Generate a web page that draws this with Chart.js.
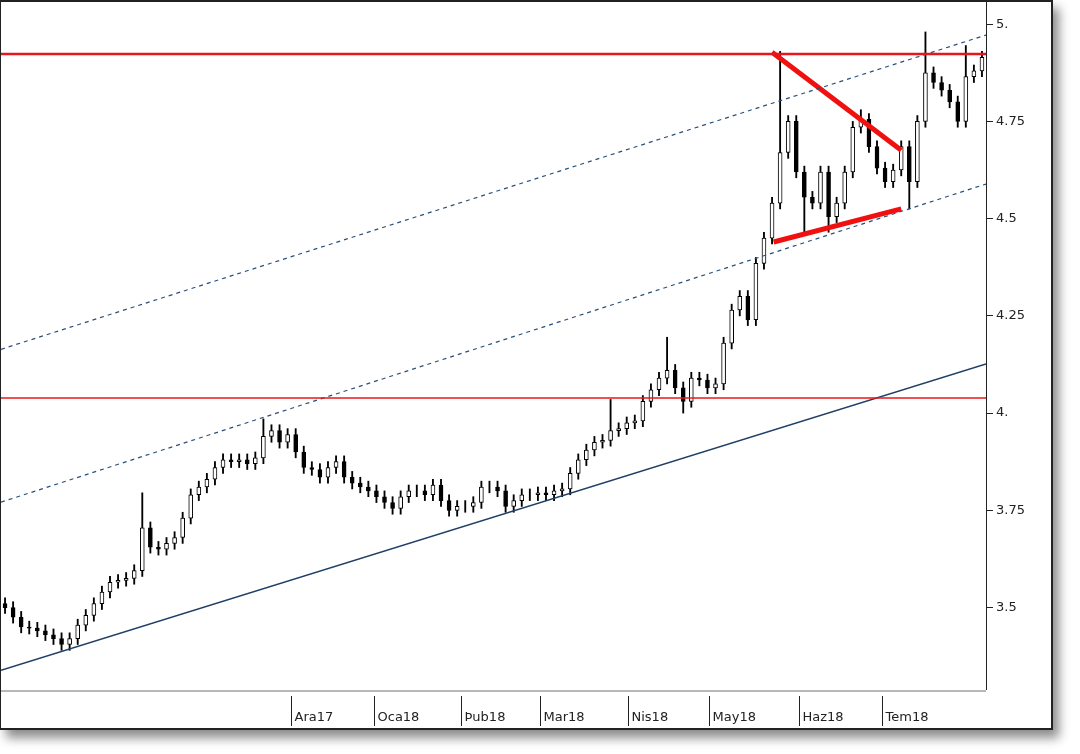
<!DOCTYPE html>
<html>
<head>
<meta charset="utf-8">
<script src="https://cdn.jsdelivr.net/npm/chart.js@4/dist/chart.umd.min.js"></script>
<style>
  body { margin: 0; background: #fff; }
  #frame {
    position: absolute; left: 0; top: 0; width: 1050px; height: 726px;
    border: 2px solid #222; border-left-width: 1px; background: #fff;
    box-shadow: 6px 8px 10px rgba(0,0,0,0.45);
  }
  canvas { display: block; }
</style>
</head>
<body>
<div id="frame"><canvas id="c" width="1050" height="726"></canvas></div>
<script>
// closes per candle (open = previous close)
const closes = [3.50,3.475,3.45,3.447,3.44,3.43,3.42,3.405,3.42,3.455,
  3.48,3.51,3.54,3.565,3.57,3.575,3.595,3.705,3.655,3.65,
  3.665,3.68,3.73,3.79,3.81,3.83,3.86,3.88,3.875,3.88,
  3.87,3.885,3.94,3.955,3.925,3.945,3.90,3.86,3.855,3.835,
  3.86,3.875,3.835,3.82,3.81,3.80,3.785,3.77,3.755,3.785,
  3.80,3.80,3.79,3.815,3.775,3.75,3.76,3.76,3.77,3.81,
  3.81,3.80,3.76,3.775,3.79,3.79,3.795,3.79,3.80,3.805,
  3.845,3.88,3.905,3.925,3.93,3.955,3.96,3.975,3.98,4.03,
  4.06,4.09,4.11,4.065,4.03,4.09,4.085,4.065,4.075,4.18,
  4.265,4.30,4.24,4.385,4.45,4.54,4.67,4.75,4.62,4.555,
  4.54,4.62,4.505,4.54,4.62,4.735,4.755,4.685,4.63,4.595,
  4.625,4.685,4.595,4.75,4.875,4.85,4.83,4.80,4.75,4.865,
  4.88,4.915];
const firstOpen = 3.51;
const highs = [3.525,3.515,3.49,3.465,3.462,3.455,3.445,3.435,3.435,3.47,
  3.495,3.525,3.555,3.58,3.585,3.59,3.61,3.795,3.72,3.67,
  3.68,3.695,3.745,3.805,3.825,3.845,3.875,3.895,3.895,3.895,
  3.895,3.90,3.985,3.97,3.97,3.96,3.96,3.915,3.875,3.87,
  3.875,3.89,3.89,3.85,3.835,3.825,3.815,3.80,3.785,3.80,
  3.815,3.815,3.815,3.83,3.83,3.79,3.775,3.775,3.785,3.825,
  3.825,3.825,3.815,3.79,3.805,3.805,3.81,3.81,3.815,3.82,
  3.86,3.895,3.92,3.94,3.945,4.035,3.975,3.99,3.995,4.045,
  4.075,4.105,4.195,4.125,4.08,4.105,4.105,4.10,4.09,4.195,
  4.28,4.315,4.315,4.40,4.465,4.555,4.93,4.765,4.765,4.635,
  4.57,4.635,4.635,4.555,4.635,4.75,4.78,4.77,4.70,4.645,
  4.64,4.70,4.70,4.765,4.98,4.89,4.865,4.845,4.815,4.945,
  4.895,4.93];
const lows = [3.485,3.46,3.435,3.432,3.425,3.415,3.405,3.39,3.39,3.405,
  3.44,3.465,3.495,3.525,3.55,3.555,3.56,3.58,3.64,3.635,
  3.635,3.65,3.665,3.715,3.775,3.795,3.815,3.845,3.86,3.86,
  3.855,3.855,3.87,3.925,3.91,3.91,3.885,3.845,3.84,3.82,
  3.82,3.845,3.82,3.805,3.795,3.785,3.77,3.755,3.74,3.74,
  3.77,3.785,3.775,3.775,3.76,3.735,3.735,3.745,3.745,3.755,
  3.795,3.785,3.745,3.745,3.76,3.775,3.775,3.775,3.775,3.785,
  3.79,3.83,3.865,3.89,3.91,3.915,3.94,3.945,3.96,3.965,
  4.015,4.045,4.075,4.05,4.00,4.015,4.07,4.05,4.05,4.06,
  4.165,4.25,4.225,4.225,4.37,4.435,4.525,4.655,4.605,4.46,
  4.525,4.525,4.465,4.49,4.525,4.605,4.72,4.67,4.615,4.58,
  4.58,4.61,4.525,4.58,4.735,4.835,4.815,4.785,4.735,4.735,
  4.85,4.865];

const yTicks = [3.5, 3.75, 4, 4.25, 4.5, 4.75, 5];
const monthLabels = ["Ara17","Oca18","Þub18","Mar18","Nis18","May18","Haz18","Tem18"];
const monthStarts = [35.4, 45.7, 56.5, 66.2, 77.2, 87.2, 98.3, 108.6];

// drawn objects: [x1, y1, x2, y2]
const resistanceTop = [-0.5, 4.923, 121.5, 4.923];
const resistanceLow = [-0.5, 4.039, 121.5, 4.039];
const trendSupport = [-0.5, 3.339, 121.5, 4.126];
const channelUpper = [-0.5, 4.164, 121.5, 4.972];
const channelLower = [-0.5, 3.771, 121.5, 4.589];
const flagTop = [95.0, 4.928, 111.0, 4.676];
const flagBottom = [95.2, 4.44, 111.0, 4.525];

const opens = closes.map((c, i) => (i === 0 ? firstOpen : closes[i - 1]));
const labels = closes.map((_, i) => i);
const seg = (s) => [{ x: s[0], y: s[1] }, { x: s[2], y: s[3] }];

function lineDs(s, color, width, dash) {
  return {
    type: "line", xAxisID: "x2", data: seg(s), borderColor: color,
    borderWidth: width, borderDash: dash || [], pointRadius: 0, order: 0,
  };
}

const bottomAxis = {
  id: "bottomAxis",
  afterDraw(chart) {
    const { ctx, chartArea } = chart;
    const x2 = chart.scales.x2;
    ctx.save();
    ctx.fillStyle = "#b8b8b8";
    ctx.fillRect(0, chartArea.bottom, chartArea.right, 2);
    ctx.strokeStyle = "#222";
    ctx.lineWidth = 1;
    ctx.beginPath();
    ctx.moveTo(chartArea.right + 0.5, 0);
    ctx.lineTo(chartArea.right + 0.5, chartArea.bottom);
    ctx.stroke();
    ctx.font = "13px 'DejaVu Sans'";
    ctx.fillStyle = "#222";
    ctx.textBaseline = "middle";
    monthStarts.forEach((m, i) => {
      const px = Math.round(x2.getPixelForValue(m)) + 0.5;
      ctx.beginPath();
      ctx.moveTo(px, chartArea.bottom + 6);
      ctx.lineTo(px, chartArea.bottom + 36);
      ctx.stroke();
      ctx.fillText(monthLabels[i], px + 3, chartArea.bottom + 28);
    });
    ctx.restore();
  },
};

new Chart(document.getElementById("c"), {
  type: "bar",
  data: {
    labels: labels,
    datasets: [
      lineDs(resistanceTop, "#e8161a", 2.5),
      lineDs(resistanceLow, "#e8161a", 1.5),
      lineDs(trendSupport, "#1f3f66", 1.5),
      lineDs(channelUpper, "#2a4f78", 1.2, [4, 4]),
      lineDs(channelLower, "#2a4f78", 1.2, [4, 4]),
      lineDs(flagTop, "#f01010", 5),
      lineDs(flagBottom, "#f01010", 5),
      {
        data: closes.map((c, i) => [opens[i], c]),
        backgroundColor: closes.map((c, i) => (c >= opens[i] ? "#ffffff" : "#000000")),
        borderColor: "#000",
        borderWidth: 1,
        borderSkipped: false,
        barThickness: 4,
        grouped: false,
        order: 1,
      },
      {
        data: closes.map((c, i) => [lows[i], highs[i]]),
        backgroundColor: "#000",
        barThickness: 1.2,
        grouped: false,
        order: 2,
      },
    ],
  },
  options: {
    responsive: false,
    animation: false,
    layout: { padding: { bottom: 38, left: 0, top: 0, right: 0 } },
    plugins: { legend: { display: false }, tooltip: { enabled: false } },
    scales: {
      x: { display: false, offset: true },
      x2: { type: "linear", display: false, offset: false, min: -0.5, max: 121.5 },
      y: {
        position: "right",
        min: 3.288,
        max: 5.057,
        afterFit: (s) => { s.width = 65; s.paddingTop = 0; s.paddingBottom = 0; },
        afterBuildTicks: (s) => { s.ticks = yTicks.map((v) => ({ value: v })); },
        grid: { drawOnChartArea: false, color: "#222", tickLength: 7 },
        border: { display: false },
        ticks: {
          color: "#222",
          font: { family: "DejaVu Sans", size: 13 },
          padding: 3,
          callback: (v) => (Number.isInteger(v) ? v + "." : String(v)),
        },
      },
    },
  },
  plugins: [bottomAxis],
});
</script>
</body>
</html>
